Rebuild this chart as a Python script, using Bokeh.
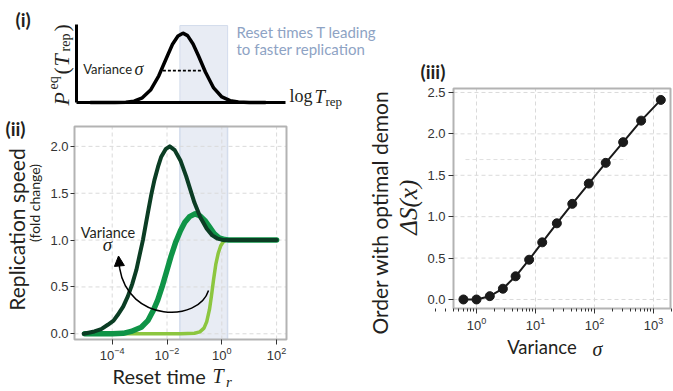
import math
from bokeh.plotting import figure
from bokeh.models import (Label, FixedTicker, LogTickFormatter, PrintfTickFormatter,
                          Arrow, NormalHead, Range1d, LinearAxis, LogAxis, LogScale,
                          LinearScale)
from bokeh.embed import file_html
from bokeh.resources import INLINE

# ---------------- data ----------------
# (i) equilibrium distribution of log replication time (x in log10 units, normalised height)
peq_logT = [-4.8, -3.9, -3.5, -3.2, -2.9, -2.6, -2.3, -2.0, -1.8, -1.6, -1.42,
            -1.25, -1.05, -0.85, -0.6, -0.3, 0.0, 0.3, 0.6, 1.0, 1.6]
peq_val = [0.0, 0.0005, 0.005, 0.02, 0.067, 0.18, 0.385, 0.66, 0.84, 0.96, 1.0,
           0.965, 0.845, 0.67, 0.44, 0.21, 0.08, 0.026, 0.007, 0.001, 0.0]
fwhm_logT = [-2.15, -0.70]
fwhm_val = [0.46, 0.46]

# band of reset times leading to faster replication
band_T = [0.0295, 1.62]

# (ii) replication speed vs reset time, three variances
Tr_high = [9.12e-6, 2.24e-5, 3.98e-5, 6.92e-5, 1.12e-4, 1.58e-4, 2.51e-4, 3.72e-4,
           5.37e-4, 7.59e-4, 1.0e-3, 1.32e-3, 1.66e-3, 2.09e-3, 2.69e-3, 3.47e-3,
           4.68e-3, 6.17e-3, 8.91e-3, 1.26e-2, 1.91e-2, 3.09e-2, 5.01e-2, 7.24e-2,
           0.1, 0.166, 0.282, 0.447, 0.708, 1.17, 3.16, 10.0, 100.0]
speed_high = [0.0, 0.025, 0.05, 0.096, 0.14, 0.20, 0.29, 0.40,
              0.53, 0.68, 0.84, 1.0, 1.16, 1.32, 1.49, 1.64,
              1.78, 1.89, 1.97, 2.0, 1.96, 1.85, 1.68, 1.53,
              1.40, 1.24, 1.12, 1.05, 1.015, 1.0, 1.0, 1.0, 1.0]

Tr_mid = [1.0e-5, 1.0e-4, 2.51e-4, 4.9e-4, 1.15e-3, 2.0e-3, 3.16e-3, 4.57e-3,
          6.61e-3, 9.55e-3, 1.41e-2, 2.09e-2, 3.09e-2, 4.47e-2, 6.61e-2, 0.107,
          0.158, 0.24, 0.355, 0.525, 0.794, 1.26, 1.78, 100.0]
speed_mid = [0.0, 0.0, 0.005, 0.025, 0.07, 0.14, 0.25, 0.36,
             0.50, 0.66, 0.83, 0.98, 1.10, 1.19, 1.25, 1.28,
             1.26, 1.21, 1.14, 1.07, 1.025, 1.005, 1.0, 1.0]

Tr_low = [1.0e-5, 3.16e-2, 0.1, 0.158, 0.224, 0.282, 0.355, 0.417, 0.501,
          0.603, 0.741, 0.912, 1.12, 1.41, 100.0]
speed_low = [0.0, 0.0, 0.005, 0.02, 0.06, 0.13, 0.26, 0.40, 0.58,
             0.74, 0.86, 0.94, 0.98, 1.0, 1.0]

# (iii) order with optimal demon vs variance
variance = [0.6, 1.0, 1.68, 2.8, 4.6, 7.8, 13.0, 23.0, 42.0, 80.0, 155.0, 306.0, 617.0, 1330.0]
delta_S = [0.0, 0.0, 0.04, 0.13, 0.28, 0.48, 0.69, 0.92, 1.155, 1.40, 1.65, 1.90, 2.16, 2.41]
stray_x = [0.65, 357.0]
stray_y = [1.69, 1.69]

x_ticks_ii = [1e-4, 1e-2, 1.0, 1e2]
y_ticks_ii = [0.0, 0.5, 1.0, 1.5, 2.0]
x_ticks_iii = [1.0, 10.0, 100.0, 1000.0]
y_ticks_iii = [0.0, 0.5, 1.0, 1.5, 2.0, 2.5]

# ---------------- layout / styles ----------------
W, H = 673, 391
INK = "#231f20"
SANS = "Lato"
SERIF = "Liberation Serif"
TICKFONT = "Liberation Sans"
C_HIGH = "#0b3d24"
C_MID = "#0f9447"
C_LOW = "#8cc63f"
BAND_FILL = "#e6eaf3"
BAND_LINE = "#d3dcec"
GRID = "#dadada"
FRAME = "#b3b3b3"

# panel boxes in page pixels (left, right, top, bottom) and their value ranges
BOX_I = (76, 285, 24, 102)
BOX_II = (74, 286, 126, 339)
BOX_III = (453, 670, 88, 308)
XR_I, YR_I = (-5.30, 2.32), (0.0, 1.125)
XR_II, YR_II = (-5.376, 2.361), (-0.061, 2.212)       # x in log10
XR_III, YR_III = (-0.39, 3.288), (-0.109, 2.548)      # x in log10


def x_extent(box, vr, log=False):
    l, r = box[0], box[1]
    a = (vr[1] - vr[0]) / (r - l)
    s, e = vr[0] - l * a, vr[0] + (W - l) * a
    return Range1d(10 ** s, 10 ** e) if log else Range1d(s, e)


def y_extent(box, vr):
    t, b = box[2], box[3]
    k = (vr[1] - vr[0]) / (b - t)
    return Range1d(vr[0] - (H - b) * k, vr[0] + b * k)


p = figure(width=W, height=H, x_range=Range1d(0, W), y_range=Range1d(0, H),
           x_axis_location=None, y_axis_location=None,
           output_backend="svg", toolbar_location=None, min_border=0)
p.outline_line_color = None
p.background_fill_color = "white"
p.border_fill_color = "white"
p.grid.visible = False

p.extra_x_ranges = {"i": x_extent(BOX_I, XR_I), "ii": x_extent(BOX_II, XR_II, True),
                    "iii": x_extent(BOX_III, XR_III, True)}
p.extra_y_ranges = {"i": y_extent(BOX_I, YR_I), "ii": y_extent(BOX_II, YR_II),
                    "iii": y_extent(BOX_III, YR_III)}
p.extra_x_scales = {"i": LinearScale(), "ii": LogScale(), "iii": LogScale()}
p.extra_y_scales = {"i": LinearScale(), "ii": LinearScale(), "iii": LinearScale()}


def lab(x, y, text, size, font=SANS, style="normal", color=INK,
        align="left", angle=0.0):
    """x, y in page pixels from the top-left corner; y is the text's middle."""
    p.add_layout(Label(x=x, y=H - y, text=text, text_font=font,
                       text_font_size=f"{size}px", text_font_style=style,
                       text_color=color, text_align=align, text_baseline="middle",
                       angle=angle))


def style_ticks(ax, out):
    ax.axis_line_color = None
    ax.major_tick_line_color = "#333333"
    ax.minor_tick_line_color = "#333333"
    ax.major_tick_in = 0
    ax.minor_tick_in = 0
    ax.major_tick_out = out
    ax.minor_tick_out = 3
    ax.major_label_text_font = TICKFONT
    ax.major_label_text_font_size = "13px"
    ax.major_label_text_color = "#333333"


def grid_lines(name, xt, yt, xr, yr, log):
    x0, x1 = (10 ** xr[0], 10 ** xr[1]) if log else xr
    p.segment(x0=xt, y0=[yr[0]] * len(xt), x1=xt, y1=[yr[1]] * len(xt),
              line_color=GRID, line_dash="4 3", line_width=1,
              x_range_name=name, y_range_name=name)
    p.segment(x0=[x0] * len(yt), y0=yt, x1=[x1] * len(yt), y1=yt,
              line_color=GRID, line_dash="4 3", line_width=1,
              x_range_name=name, y_range_name=name)


def frame_box(name, xr, yr, log):
    x0, x1 = (10 ** xr[0], 10 ** xr[1]) if log else xr
    p.quad(left=[x0], right=[x1], bottom=[yr[0]], top=[yr[1]], fill_color=None,
           line_color=FRAME, line_width=2, x_range_name=name, y_range_name=name)


R = math.pi / 2

# ---------------- panel (i) ----------------
p.quad(left=[math.log10(band_T[0])], right=[math.log10(band_T[1])], bottom=[0.0], top=[1.11],
       fill_color=BAND_FILL, fill_alpha=0.9, line_color=BAND_LINE, line_width=1,
       x_range_name="i", y_range_name="i")
ax_ix = LinearAxis(x_range_name="i", y_range_name="i", fixed_location=YR_I[0],
                   bounds=XR_I, ticker=FixedTicker(ticks=[]))
ax_iy = LinearAxis(x_range_name="i", y_range_name="i", fixed_location=XR_I[0],
                   bounds=YR_I, ticker=FixedTicker(ticks=[]))
for ax in (ax_ix, ax_iy):
    ax.axis_line_width = 3
    ax.axis_line_color = "black"
    ax.major_tick_line_color = None
    ax.minor_tick_line_color = None
p.add_layout(ax_ix, "below")
p.add_layout(ax_iy, "left")
p.line(peq_logT, peq_val, line_color="black", line_width=3.5, x_range_name="i", y_range_name="i")
p.line(fwhm_logT, fwhm_val, line_color="black", line_width=1.8, line_dash="3 2",
       x_range_name="i", y_range_name="i")

lab(15, 18.5, "(i)", 19, style="bold")
# P^eq(T_rep), rotated, reading upwards
lab(61.3, 105, "P", 22, font=SERIF, style="italic", angle=R)
lab(52.5, 89, "eq", 14, font=SERIF, angle=R)
lab(61.3, 74, "(", 22, font=SERIF, angle=R)
lab(61.3, 66, "T", 22, font=SERIF, style="italic", angle=R)
lab(64.5, 51, "rep", 14, font=SERIF, angle=R)
lab(61.3, 31, ")", 22, font=SERIF, angle=R)
# log T_rep
lab(289, 95.5, "log", 18, font=SERIF)
lab(314, 95.5, "T", 19, font=SERIF, style="italic")
lab(325, 101.3, "rep", 13, font=SERIF)
lab(82.7, 68.5, "Variance", 13)
lab(134, 68, "σ", 18, font=SERIF, style="italic")
lab(236, 31, "Reset times T leading", 15, color="#8ea3c4")
lab(236, 48.5, "to faster replication", 15, color="#8ea3c4")

# ---------------- panel (ii) ----------------
p.quad(left=[band_T[0]], right=[band_T[1]], bottom=[YR_II[0]], top=[YR_II[1]],
       fill_color=BAND_FILL, fill_alpha=0.9, line_color=BAND_LINE, line_width=1.5,
       x_range_name="ii", y_range_name="ii")
grid_lines("ii", x_ticks_ii, y_ticks_ii, XR_II, YR_II, True)

ax_iix = LogAxis(x_range_name="ii", y_range_name="ii", fixed_location=YR_II[0],
                 bounds=(10 ** XR_II[0], 10 ** XR_II[1]),
                 ticker=FixedTicker(ticks=x_ticks_ii), formatter=LogTickFormatter())
ax_iiy = LinearAxis(x_range_name="ii", y_range_name="ii", fixed_location=10 ** XR_II[0],
                    bounds=YR_II, ticker=FixedTicker(ticks=y_ticks_ii),
                    formatter=PrintfTickFormatter(format="%.1f"))
style_ticks(ax_iix, 5)
style_ticks(ax_iiy, 4)
ax_iix.major_label_standoff = 2
ax_iiy.major_label_standoff = 2
p.add_layout(ax_iix, "below")
p.add_layout(ax_iiy, "left")

p.line(Tr_low, speed_low, line_color=C_LOW, line_width=3.5, line_cap="round",
       line_join="round", x_range_name="ii", y_range_name="ii")
p.line(Tr_mid, speed_mid, line_color=C_MID, line_width=5.5, line_cap="round",
       line_join="round", x_range_name="ii", y_range_name="ii")
p.line(Tr_high, speed_high, line_color=C_HIGH, line_width=4, line_cap="round",
       line_join="round", x_range_name="ii", y_range_name="ii")
frame_box("ii", XR_II, YR_II, True)

# curved arrow: increasing variance
p.bezier(x0=[10 ** -0.485], y0=[0.462], x1=[10 ** -3.73], y1=[0.70],
         cx0=[10 ** -0.85], cy0=[0.12], cx1=[10 ** -3.405], cy1=[0.12],
         line_color="black", line_width=1.5, x_range_name="ii", y_range_name="ii")
p.add_layout(Arrow(end=NormalHead(size=10, fill_color="black", line_color="black"),
                   x_start=10 ** -3.73, y_start=0.70, x_end=10 ** -3.77, y_end=0.83,
                   line_color="black", line_width=1.5, x_range_name="ii", y_range_name="ii"))

lab(5, 127.5, "(ii)", 19, style="bold")
lab(15.5, 229, "Replication speed", 21, align="center", angle=R)
lab(34, 202.5, "(fold change)", 14, align="center", angle=R)
lab(112, 375.8, "Reset time", 20)
lab(212, 375, "T", 20, font=SERIF, style="italic")
lab(225.5, 381.5, "r", 15, font=SERIF, style="italic")
lab(107.5, 232, "Variance", 14.5, align="center")
lab(107, 244, "σ", 19, font=SERIF, style="italic", align="center")

# ---------------- panel (iii) ----------------
grid_lines("iii", x_ticks_iii, y_ticks_iii, XR_III, YR_III, True)
p.line(stray_x, stray_y, line_color="#e0e0e0", line_width=1, line_dash="4 3",
       x_range_name="iii", y_range_name="iii")

ax_iiix = LogAxis(x_range_name="iii", y_range_name="iii", fixed_location=YR_III[0],
                  bounds=(10 ** XR_III[0], 10 ** XR_III[1]),
                  ticker=FixedTicker(ticks=x_ticks_iii,
                                     minor_ticks=[m * 10.0 ** e for e in range(-1, 4)
                                                  for m in range(2, 10)]),
                  formatter=LogTickFormatter())
ax_iiiy = LinearAxis(x_range_name="iii", y_range_name="iii", fixed_location=10 ** XR_III[0],
                     bounds=YR_III, ticker=FixedTicker(ticks=y_ticks_iii),
                     formatter=PrintfTickFormatter(format="%.1f"))
style_ticks(ax_iiix, 5)
style_ticks(ax_iiiy, 5)
ax_iiix.major_label_standoff = 3
ax_iiiy.major_label_standoff = 3
p.add_layout(ax_iiix, "below")
p.add_layout(ax_iiiy, "left")

p.line(variance, delta_S, line_color="#1a1a1a", line_width=2, x_range_name="iii", y_range_name="iii")
p.scatter(variance, delta_S, size=9, fill_color="#1a1a1a", line_color="#1a1a1a",
          x_range_name="iii", y_range_name="iii")
frame_box("iii", XR_III, YR_III, True)

lab(420, 71, "(iii)", 19, style="bold")
lab(379, 212, "Order with optimal demon", 21, align="center", angle=R)
lab(407.5, 206.7, "ΔS(x)", 25, font=SERIF, style="italic", align="center", angle=R)
lab(506.7, 346.5, "Variance", 18.5)
lab(592, 348, "σ", 20, font=SERIF, style="italic")

open("out.html", "w").write(file_html(p, INLINE))
